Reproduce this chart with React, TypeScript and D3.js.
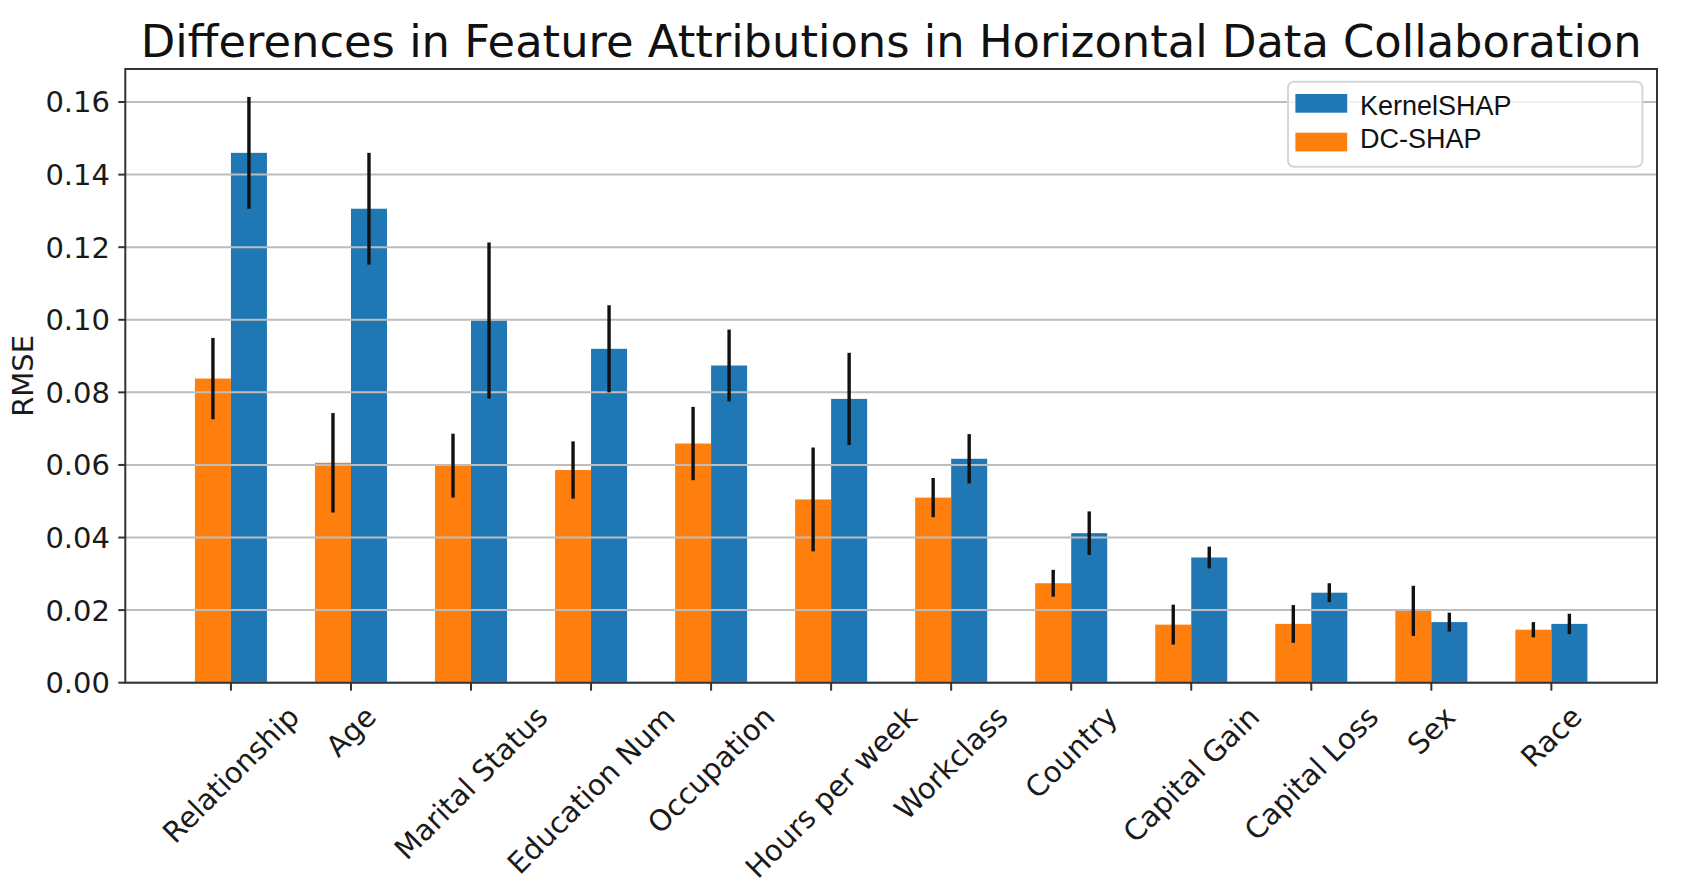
import React, { useRef, useEffect } from "react"
import * as d3 from "d3"

// feature names, ordered as in the chart
const features = [
  "Relationship", "Age", "Marital Status", "Education Num", "Occupation", "Hours per week",
  "Workclass", "Country", "Capital Gain", "Capital Loss", "Sex", "Race",
]

// KernelSHAP RMSE and std (blue)
const kernelShap    = [0.1460, 0.1306, 0.0998, 0.0920, 0.0874, 0.0782, 0.0617, 0.0412, 0.0345, 0.0248, 0.0167, 0.0162]
const kernelShapErr = [0.0154, 0.0154, 0.0215, 0.0120, 0.0099, 0.0127, 0.0068, 0.0060, 0.0030, 0.0026, 0.0026, 0.0028]

// DC-SHAP RMSE and std (orange)
const dcShap    = [0.0838, 0.0606, 0.0598, 0.0586, 0.0659, 0.0505, 0.0510, 0.0274, 0.0160, 0.0162, 0.0198, 0.0146]
const dcShapErr = [0.0112, 0.0137, 0.0088, 0.0079, 0.0101, 0.0143, 0.0054, 0.0037, 0.0055, 0.0052, 0.0069, 0.0021]

const yTicks = [0, 0.02, 0.04, 0.06, 0.08, 0.10, 0.12, 0.14, 0.16]

const legendItems = [
  { label: "KernelSHAP", color: "#1f77b4" },
  { label: "DC-SHAP", color: "#ff7f0e" },
]

const W = 1681
const H = 893
const plot = { left: 125.3, right: 1657, top: 69, bottom: 682.7 }
const barW = 0.3
const FONT = "'DejaVu Sans', sans-serif"

const App: React.FC = () => {
  const svgRef = useRef<SVGSVGElement | null>(null)

  useEffect(() => {
    if (!svgRef.current) return
    const svg = d3.select(svgRef.current)
    svg.selectAll("*").remove()

    const x = d3.scaleLinear().domain([-0.88, features.length - 1 + 0.88]).range([plot.left, plot.right])
    const y = d3.scaleLinear().domain([0, 0.1691]).range([plot.bottom, plot.top])

    // bars (patches below grid, like matplotlib's default)
    const bars = svg.append("g")
    bars.selectAll("rect.dc")
      .data(dcShap)
      .enter().append("rect")
      .attr("class", "dc")
      .attr("x", (_d, i) => x(i - barW))
      .attr("y", d => y(d))
      .attr("width", x(barW) - x(0))
      .attr("height", d => y(0) - y(d))
      .attr("fill", "#ff7f0e")

    bars.selectAll("rect.ks")
      .data(kernelShap)
      .enter().append("rect")
      .attr("class", "ks")
      .attr("x", (_d, i) => x(i))
      .attr("y", d => y(d))
      .attr("width", x(barW) - x(0))
      .attr("height", d => y(0) - y(d))
      .attr("fill", "#1f77b4")

    // horizontal grid
    svg.append("g").selectAll("line")
      .data(yTicks)
      .enter().append("line")
      .attr("x1", plot.left).attr("x2", plot.right)
      .attr("y1", d => y(d)).attr("y2", d => y(d))
      .attr("stroke", "#bdbdbd")
      .attr("stroke-width", 2)

    // error bars
    const errs = svg.append("g").attr("stroke", "#111").attr("stroke-width", 3.4)
    dcShap.forEach((v, i) => {
      errs.append("line")
        .attr("x1", x(i - barW / 2)).attr("x2", x(i - barW / 2))
        .attr("y1", y(v - dcShapErr[i])).attr("y2", y(v + dcShapErr[i]))
    })
    kernelShap.forEach((v, i) => {
      errs.append("line")
        .attr("x1", x(i + barW / 2)).attr("x2", x(i + barW / 2))
        .attr("y1", y(v - kernelShapErr[i])).attr("y2", y(v + kernelShapErr[i]))
    })

    // frame
    svg.append("rect")
      .attr("x", plot.left).attr("y", plot.top)
      .attr("width", plot.right - plot.left).attr("height", plot.bottom - plot.top)
      .attr("fill", "none").attr("stroke", "#333").attr("stroke-width", 2)

    // y axis ticks and labels
    const yAxis = svg.append("g")
    yTicks.forEach(t => {
      yAxis.append("line")
        .attr("x1", plot.left - 7).attr("x2", plot.left)
        .attr("y1", y(t)).attr("y2", y(t))
        .attr("stroke", "#333").attr("stroke-width", 2)
      yAxis.append("text")
        .attr("x", 110).attr("y", y(t))
        .attr("dy", "0.36em")
        .attr("text-anchor", "end")
        .attr("font-family", FONT).attr("font-size", 29)
        .attr("fill", "#1a1a1a")
        .text(t.toFixed(2))
    })

    svg.append("text")
      .attr("transform", `translate(33, ${(plot.top + plot.bottom) / 2}) rotate(-90)`)
      .attr("text-anchor", "middle")
      .attr("font-family", FONT).attr("font-size", 29)
      .attr("fill", "#1a1a1a")
      .text("RMSE")

    // x axis ticks and rotated labels (bbox centred on tick, like mpl rotation=45)
    const xAxis = svg.append("g")
    const fs = 29
    const boxH = 1.164 * fs
    const labelTop = plot.bottom + 17
    features.forEach((f, i) => {
      xAxis.append("line")
        .attr("x1", x(i)).attr("x2", x(i))
        .attr("y1", plot.bottom).attr("y2", plot.bottom + 8)
        .attr("stroke", "#333").attr("stroke-width", 2)
      const t = xAxis.append("text")
        .attr("text-anchor", "middle")
        .attr("dy", "0.346em")
        .attr("font-family", FONT).attr("font-size", fs)
        .attr("fill", "#1a1a1a")
        .text(f)
      const w = (t.node() as SVGTextElement).getComputedTextLength()
      const cy = labelTop + (w + boxH) / (2 * Math.SQRT2)
      t.attr("transform", `translate(${x(i)}, ${cy}) rotate(-45)`)
    })

    // title
    svg.append("text")
      .attr("x", (plot.left + plot.right) / 2).attr("y", 56.7)
      .attr("text-anchor", "middle")
      .attr("font-family", FONT).attr("font-size", 44.8)
      .attr("fill", "#111")
      .text("Differences in Feature Attributions in Horizontal Data Collaboration")

    // legend
    const leg = svg.append("g")
    leg.append("rect")
      .attr("x", 1288).attr("y", 81.7)
      .attr("width", 354.4).attr("height", 85)
      .attr("rx", 6).attr("ry", 6)
      .attr("fill", "white").attr("fill-opacity", 0.8)
      .attr("stroke", "#d6d6d6").attr("stroke-width", 2)
    legendItems.forEach((d, i) => {
      const top = 94 + i * 38.7
      leg.append("rect")
        .attr("x", 1295.4).attr("y", top)
        .attr("width", 51.8).attr("height", 18.7)
        .attr("fill", d.color)
      leg.append("text")
        .attr("x", 1360).attr("y", 115 + i * 32.7)
        .attr("font-family", "'Liberation Sans', Arial, sans-serif")
        .attr("font-size", 27)
        .attr("fill", "#111")
        .text(d.label)
    })
  }, [])

  return (
    <div style={{ position: "absolute", left: 0, top: 0, background: "white" }}>
      <svg ref={svgRef} width={W} height={H} style={{ display: "block" }}></svg>
    </div>
  )
}

export default App
